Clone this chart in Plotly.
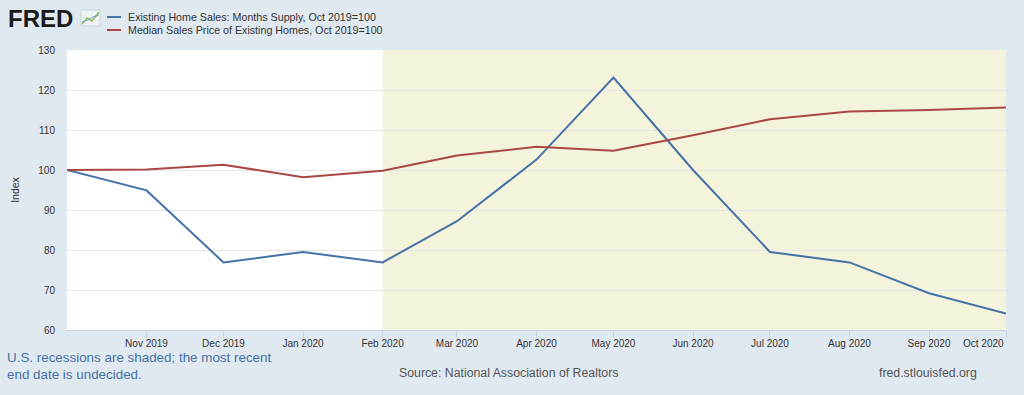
import plotly.graph_objects as go

dates = ["2019-10-01", "2019-11-01", "2019-12-01", "2020-01-01", "2020-02-01", "2020-03-01",
         "2020-04-01", "2020-05-01", "2020-06-01", "2020-07-01", "2020-08-01", "2020-09-01",
         "2020-10-01"]
months_supply = [100.0, 94.9, 76.9, 79.5, 76.9, 87.2, 102.6, 123.1, 100.0, 79.5, 76.9, 69.2, 64.1]
median_price = [100.0, 100.1, 101.3, 98.2, 99.8, 103.6, 105.8, 104.8, 108.7, 112.7, 114.6, 115.0, 115.6]
tick_dates = dates[1:]
tick_labels = ["Nov 2019", "Dec 2019", "Jan 2020", "Feb 2020", "Mar 2020", "Apr 2020", "May 2020",
               "Jun 2020", "Jul 2020", "Aug 2020", "Sep 2020", ""]
last_tick_label = "Oct 2020"
series_names = ["Existing Home Sales: Months Supply, Oct 2019=100",
                "Median Sales Price of Existing Homes, Oct 2019=100"]
recession_start = "2020-02-01"
recession_end = "2020-10-01"

BLUE = "#4572a7"
RED = "#aa4643"
BG = "#e1e9f0"
TXT = "#333333"
FONT = "Liberation Sans, Arial, sans-serif"

L, T, PW, PH = 67, 50, 939, 280


def px(x):
    return (x - L) / PW


def py(y):
    return 1 + (T - y) / PH


fig = go.Figure()
fig.add_trace(go.Scatter(x=dates, y=months_supply, mode="lines", name=series_names[0],
                         line=dict(color=BLUE, width=2)))
fig.add_trace(go.Scatter(x=dates, y=median_price, mode="lines", name=series_names[1],
                         line=dict(color=RED, width=2)))

fig.add_vrect(x0=recession_start, x1=recession_end, fillcolor="#f4f4dc", opacity=1,
              line_width=0, layer="below")

fig.update_layout(
    width=1024, height=395,
    margin=dict(l=L, r=1024 - L - PW, t=T, b=395 - T - PH),
    paper_bgcolor=BG, plot_bgcolor="white",
    showlegend=False,
    font=dict(family=FONT, size=10, color=TXT),
    xaxis=dict(range=[dates[0], dates[-1]], tickvals=tick_dates, ticktext=tick_labels,
               showgrid=False, ticks="outside", ticklen=7, tickcolor="#c8d4e0",
               tickfont=dict(size=10, color=TXT), showline=True, linecolor="#c8d4e0",
               zeroline=False, ticklabelstandoff=-3),
    yaxis=dict(range=[60, 130], dtick=10, gridcolor="#e6e6e6", zeroline=False,
               tickfont=dict(size=10, color=TXT), ticks="", ticklabelstandoff=11,
               title=dict(text="Index", font=dict(size=10.5, color=TXT), standoff=16)),
)

# Right-aligned final tick label, as FRED draws it at the plot edge
fig.add_annotation(text=last_tick_label, xref="x", yref="paper", x=dates[-1], y=py(343),
                   xanchor="right", yanchor="middle", showarrow=False,
                   font=dict(size=10, color=TXT))

# Legend (drawn manually to match the compact FRED style)
for i, (name, col) in enumerate(zip(series_names, [BLUE, RED])):
    ypix = 17 + 13 * i
    fig.add_shape(type="line", xref="paper", yref="paper",
                  x0=px(107), x1=px(121), y0=py(ypix), y1=py(ypix),
                  line=dict(color=col, width=2))
    fig.add_annotation(text=name, xref="paper", yref="paper", x=px(126), y=py(ypix),
                       xanchor="left", yanchor="middle", showarrow=False,
                       font=dict(size=10.7, color=TXT))

# FRED logo
fig.add_annotation(text="<b>FRED</b>", xref="paper", yref="paper",
                   x=px(6), y=py(19), xanchor="left", yanchor="middle",
                   showarrow=False, font=dict(family=FONT, size=24, color="#1a1a1a"))
fig.add_shape(type="rect", xref="paper", yref="paper",
              x0=px(81), x1=px(100), y0=py(26), y1=py(10),
              fillcolor="#eef2f5", line=dict(color="#c8d4dc", width=1))
fig.add_shape(type="path", xref="paper", yref="paper",
              path="M {:.4f},{:.4f} L {:.4f},{:.4f} L {:.4f},{:.4f} L {:.4f},{:.4f}".format(
                  px(82), py(24), px(87), py(18), px(92), py(21), px(99), py(12)),
              line=dict(color="#8dbb5a", width=1.5))
fig.add_shape(type="path", xref="paper", yref="paper",
              path="M {:.4f},{:.4f} L {:.4f},{:.4f} L {:.4f},{:.4f} L {:.4f},{:.4f}".format(
                  px(82), py(22), px(88), py(20), px(93), py(17), px(99), py(15)),
              line=dict(color="#7fa7c9", width=1))

# Footer
fig.add_annotation(text="U.S. recessions are shaded; the most recent<br>end date is undecided.",
                   xref="paper", yref="paper", x=px(5), y=py(366),
                   xanchor="left", yanchor="middle", align="left", showarrow=False,
                   font=dict(size=13.4, color=BLUE))
fig.add_annotation(text="Source: National Association of Realtors", xref="paper", yref="paper",
                   x=px(508), y=py(373), xanchor="center", yanchor="middle",
                   showarrow=False, font=dict(size=12.3, color="#555555"))
fig.add_annotation(text="fred.stlouisfed.org", xref="paper", yref="paper",
                   x=px(979), y=py(373), xanchor="right", yanchor="middle",
                   showarrow=False, font=dict(size=12.3, color="#555555"))

fig.write_html("out.html", config={"displayModeBar": False},
               post_script="document.body.style.margin='0';")
